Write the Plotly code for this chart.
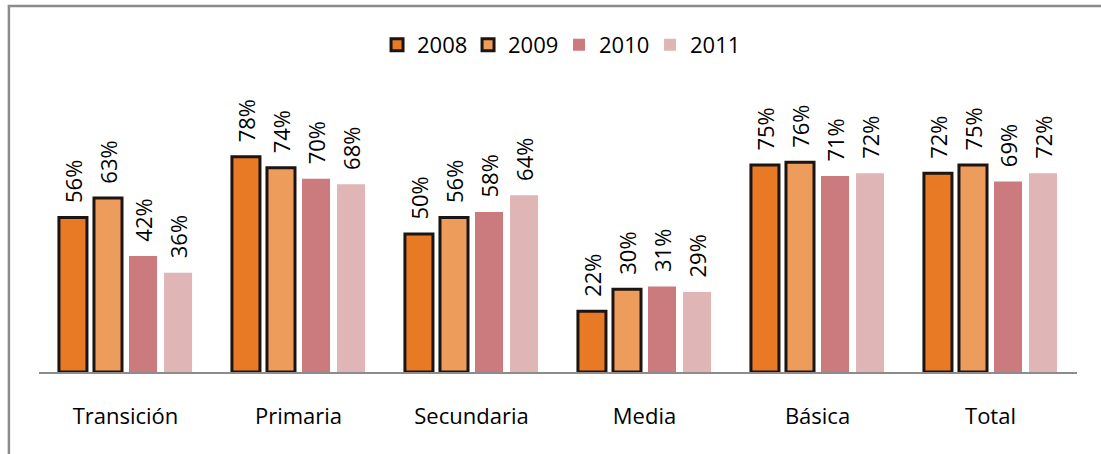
import plotly.graph_objects as go

categories = ["Transición", "Primaria", "Secundaria", "Media", "Básica", "Total"]
years = ["2008", "2009", "2010", "2011"]
v2008 = [0.56, 0.78, 0.50, 0.22, 0.75, 0.72]
v2009 = [0.63, 0.74, 0.56, 0.30, 0.76, 0.75]
v2010 = [0.42, 0.70, 0.58, 0.31, 0.71, 0.69]
v2011 = [0.36, 0.68, 0.64, 0.29, 0.72, 0.72]

series = [v2008, v2009, v2010, v2011]
colors = ["#E87A25", "#EE9C5C", "#CB7B7D", "#E0B5B6"]
outlined = [True, True, False, False]

FONT = "Open Sans, Noto Sans, sans-serif"
PAD = "\u00a0\u00a0"  # pushes the rotated labels a bit further off the bars

fig = go.Figure()
for name, vals, col, edge in zip(years, series, colors, outlined):
    fig.add_trace(go.Bar(
        x=categories, y=vals, name=name,
        marker=dict(color=col,
                    line=dict(color="#1c1410", width=3 if edge else 0)),
        text=[f"{PAD}{v:.0%}" for v in vals],
        textposition="outside", textangle=-90,
        textfont=dict(size=22, color="black", family=FONT),
        cliponaxis=False,
    ))

fig.update_layout(
    width=1101, height=454,
    paper_bgcolor="white", plot_bgcolor="white",
    font=dict(family=FONT, size=22, color="black"),
    barmode="group", bargap=0.19, bargroupgap=0.2,
    margin=dict(l=39, r=24, t=96, b=82),
    legend=dict(orientation="h", x=0.501, xanchor="center",
                y=1.185, yanchor="middle",
                font=dict(size=22), itemwidth=30, entrywidth=46),
    uniformtext=dict(minsize=22, mode="show"),
    shapes=[dict(type="rect", xref="paper", yref="paper",
                 x0=-0.029, x1=1.2, y0=-0.6, y1=1.326,
                 line=dict(color="#8c8c8c", width=2.5),
                 fillcolor="rgba(0,0,0,0)", layer="below")],
)
fig.update_xaxes(showline=True, linecolor="#8c8c8c", linewidth=2,
                 ticks="", showgrid=False, ticklabelstandoff=24)
fig.update_yaxes(range=[0, 1], visible=False, showgrid=False)

fig.write_html("out.html", config={"displayModeBar": False},
               post_script="document.body.style.margin='0';")
